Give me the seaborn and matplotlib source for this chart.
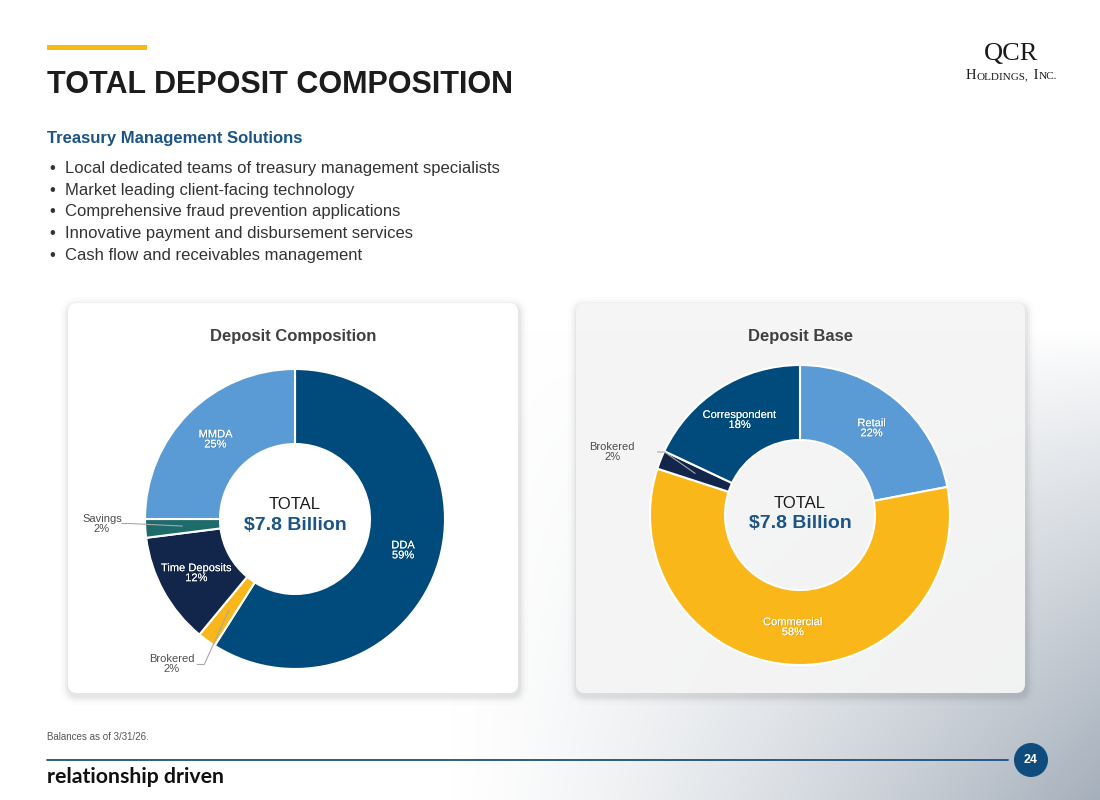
import matplotlib
matplotlib.use("Agg")
import matplotlib.pyplot as plt
import matplotlib.patheffects as pe
from matplotlib.patches import FancyBboxPatch, Circle, Rectangle
import numpy as np
import seaborn as sns

# ---- data ----
comp_labels = ["DDA", "Brokered", "Time Deposits", "Savings", "MMDA"]
comp_values = [59, 2, 12, 2, 25]
base_labels = ["Retail", "Commercial", "Brokered", "Correspondent"]
base_values = [22, 58, 2, 18]
total_label = "$7.8 Billion"
bullets = [
    "Local dedicated teams of treasury management specialists",
    "Market leading client-facing technology",
    "Comprehensive fraud prevention applications",
    "Innovative payment and disbursement services",
    "Cash flow and receivables management",
]

sns.set_theme(style="white")
plt.rcParams["font.family"] = ["Liberation Sans", "DejaVu Sans"]

DARK_BLUE = "#004b7c"
LIGHT_BLUE = "#5b9bd5"
NAVY = "#12254a"
YELLOW = "#f9b719"
TEAL = "#1e6b6c"
TXT_BLUE = "#1b5485"

comp_colors = sns.color_palette([DARK_BLUE, YELLOW, NAVY, TEAL, LIGHT_BLUE])
base_colors = sns.color_palette([LIGHT_BLUE, YELLOW, NAVY, DARK_BLUE])

W, H = 1100, 800
fig = plt.figure(figsize=(11, 8), dpi=100)
bg = fig.add_axes([0, 0, 1, 1])
bg.axis("off")

# soft grey backdrop in the lower right
yy, xx = np.mgrid[0:H, 0:W]
t = np.clip((yy - 330) / 470, 0, 1) ** 0.9 * np.clip((xx - 450) / 650, 0, 1) ** 1.3
grey = np.array([165, 175, 187]) / 255
img = 1 - t[..., None] * (1 - grey)
bg.imshow(img, extent=(0, W, H, 0), zorder=0, aspect="auto")
bg.set_xlim(0, W)
bg.set_ylim(H, 0)


def card(x0, y0, x1, y1, fc, alpha=1.0):
    w, h = x1 - x0, y1 - y0
    for pad, a in [(9, 0.012), (6, 0.02), (4, 0.03), (2, 0.035)]:
        bg.add_patch(FancyBboxPatch((x0 - pad + 1, y0 - pad + 3), w + 2 * pad, h + 2 * pad,
                                    boxstyle=f"round,pad=0,rounding_size={9 + pad}",
                                    fc="black", alpha=a, lw=0, zorder=1))
    bg.add_patch(FancyBboxPatch((x0, y0), w, h, boxstyle="round,pad=0,rounding_size=9",
                                fc=fc, alpha=alpha, lw=0, zorder=2))


card(68, 303, 518, 693, "white")
card(576, 303, 1025, 693, "#f6f6f6", 0.94)

# header
bg.add_patch(Rectangle((47, 45), 100, 5, color="#f6b918", lw=0, zorder=3))
bg.text(47, 85, "TOTAL DEPOSIT COMPOSITION", fontsize=22, fontweight="bold",
        color="#1c1c1c", va="center", ha="left", zorder=3)
bg.text(47, 139, "Treasury Management Solutions", fontsize=12, fontweight="bold",
        color=TXT_BLUE, va="center", ha="left", zorder=3)
for i, b in enumerate(bullets):
    y = 168.5 + i * 21.7
    bg.text(49, y, "\u2022", fontsize=12, color="#333333", va="center", ha="left", zorder=3)
    bg.text(65, y, b, fontsize=12, color="#333333", va="center", ha="left", zorder=3)

# logo (small caps)
serif = ["Liberation Serif", "DejaVu Serif"]
bg.text(1011, 60, "QCR", fontsize=19, family=serif, color="#1a1a1a",
        ha="center", va="baseline", zorder=3)
renderer = fig.canvas.get_renderer()
pos = 966
for run, size in [("H", 10.5), ("OLDINGS,", 8), (" I", 10.5), ("NC.", 8)]:
    tx = bg.text(pos, 79, run, fontsize=size, family=serif, color="#1a1a1a",
                 ha="left", va="baseline", zorder=3)
    pos += tx.get_window_extent(renderer).width + (1.0 if run.endswith(",") else 0.3)

# footer
bg.text(47, 737, "Balances as of 3/31/26.", fontsize=7, color="#555555",
        va="center", ha="left", zorder=3)
bg.plot([47, 1008], [760, 760], color="#1d4f7c", lw=1.3, zorder=3)
bg.add_patch(Circle((1031, 760), 17, fc="#0f4c7d", lw=0, zorder=4))
bg.text(1031, 760, "24", fontsize=9, fontweight="bold", color="white",
        ha="center", va="center", zorder=5)
bg.text(47, 777, "relationship driven", fontsize=15.3, fontweight="bold",
        family=["Lato", "DejaVu Sans"], color="#111111", va="center", ha="left", zorder=3)

# card titles
bg.text(293, 337, "Deposit Composition", fontsize=12, fontweight="bold",
        color="#404040", ha="center", va="center", zorder=3)
bg.text(800, 337, "Deposit Base", fontsize=12, fontweight="bold",
        color="#404040", ha="center", va="center", zorder=3)

R = 150
SPAN = 1.5
shadow = [pe.withSimplePatchShadow(offset=(0.5, -0.5), shadow_rgbFace="black", alpha=0.2),
          pe.Normal()]


def donut(cx, cy, labels, values, colors, outside, text_dy):
    side = 2 * R * SPAN
    ax = fig.add_axes([(cx - R * SPAN) / W, 1 - (cy + R * SPAN) / H, side / W, side / H])
    ax.set_facecolor("none")
    wedges, _ = ax.pie(values, colors=colors, startangle=90, counterclock=False,
                       radius=1, wedgeprops=dict(width=0.5, edgecolor="white", linewidth=1.5))
    ax.set_xlim(-SPAN, SPAN)
    ax.set_ylim(-SPAN, SPAN)
    ax.axis("off")
    for w, lab, v in zip(wedges, labels, values):
        mid = np.deg2rad((w.theta1 + w.theta2) / 2)
        mx, my = 0.75 * np.cos(mid), 0.75 * np.sin(mid)
        txt = f"{lab}\n{v}%"
        if lab in outside:
            lx, ly, gap = outside[lab]
            ax.text(lx, ly, txt, fontsize=8, color="#4d4d4d", ha="center", va="center",
                    linespacing=1.0)
            ex = lx + gap
            ax.plot([ex, ex + 0.05, mx], [ly, ly, my], color="#a8a8a8", lw=0.8,
                    solid_capstyle="butt")
        else:
            ax.text(mx, my, txt, fontsize=8, color="white", ha="center", va="center",
                    linespacing=1.0, path_effects=shadow)
    ax.text(0, text_dy[0], "TOTAL", fontsize=12, color="#1a1a1a", ha="center", va="center")
    ax.text(0, text_dy[1], total_label, fontsize=14, fontweight="bold", color=TXT_BLUE,
            ha="center", va="center")
    return ax


donut(295, 519, comp_labels, comp_values, comp_colors,
      {"Savings": (-1.287, -0.03, 0.13), "Brokered": (-0.82, -0.97, 0.165)}, (0.1, -0.04))
donut(800, 515, base_labels, base_values, base_colors,
      {"Brokered": (-1.253, 0.42, 0.3)}, (0.08, -0.06))

fig.savefig("out.png", dpi=100)
